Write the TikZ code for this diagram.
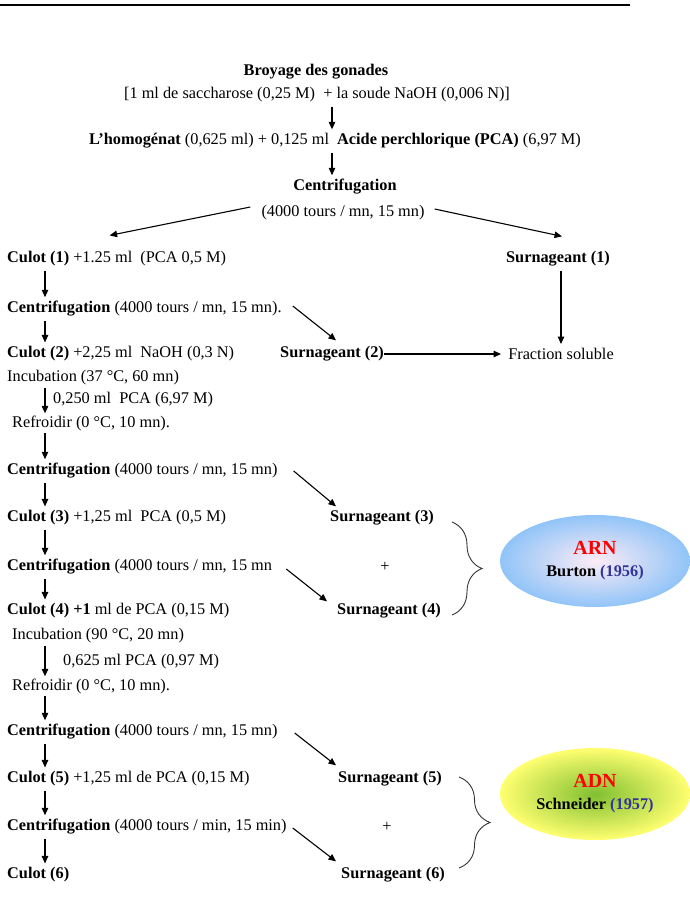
\documentclass[tikz,border=0pt]{standalone}
\usepackage{fontspec}
\setmainfont{Liberation Serif}
\usetikzlibrary{arrows.meta, shapes.geometric, decorations.pathreplacing}
\definecolor{Cred}{RGB}{255,0,0}
\definecolor{Cnavy}{RGB}{51,51,153}
\definecolor{Carnin}{RGB}{252,236,246}
\definecolor{Carnout}{RGB}{145,196,248}
\definecolor{Cadnin}{RGB}{128,192,50}
\definecolor{Cadnout}{RGB}{255,255,112}
\tikzset{
  txt/.style={anchor=west, inner xsep=0pt, inner ysep=4pt,
    font=\fontsize{16.3}{19.5}\selectfont},
  ctxt/.style={txt, anchor=center},
  tight/.style={inner ysep=2pt},
  arr/.style={-{Triangle[length=7.5pt, width=6.5pt]}, line width=1.1pt},
  brc/.style={decorate, decoration={brace, amplitude=#1}, line width=0.9pt, black!80},
  result/.style={ellipse, minimum width=190pt, minimum height=92pt, align=center,
    inner sep=0pt, font=\fontsize{16.3}{22}\selectfont},
}
\newcommand{\acidname}[1]{{\fontsize{20}{22}\selectfont\textcolor{Cred}{\textbf{#1}}}}

\begin{document}
\begin{tikzpicture}[x=1pt, y=-1pt]
\useasboundingbox (0,0) rectangle (689,902);

%% header rule
\draw[line width=2.5pt] (0,5) -- (630,5);

\coordinate (midx) at (332,0);
\coordinate (colx) at (45,0);

%%==========================================================================
%% TOP -- homogenate and first centrifugation
%%==========================================================================
\node[ctxt] (broy)  at (316,72)  {\textbf{Broyage des gonades}};
\node[ctxt] (sacch) at (317,95)  {[1 ml de saccharose (0,25 M)\ \ + la soude NaOH (0,006 N)]};
\node[ctxt] (homog) at (335,141) {\textbf{L’homogénat} (0,625 ml) + 0,125 ml\ \ \textbf{Acide perchlorique (PCA)} (6,97 M)};
\node[ctxt] (centA) at (345,187) {\textbf{Centrifugation}};
\node[ctxt] (toursA) at (343,213) {(4000 tours / mn, 15 mn)};

\draw[arr] (sacch.south -| midx) -- (homog.north -| midx);
\draw[arr] (homog.south -| midx) -- (centA.north -| midx);

%%==========================================================================
%% LEFT COLUMN -- pellets
%%==========================================================================
\node[txt] (cul1) at (7,259)  {\textbf{Culot (1)} +1.25 ml\ \ (PCA 0,5 M)};
\node[txt] (cen2) at (7,309)  {\textbf{Centrifugation} (4000 tours / mn, 15 mn).};
\node[txt] (cul2) at (7,354)  {\textbf{Culot (2)} +2,25 ml\ \ NaOH (0,3 N)};
\node[txt, tight] (incA) at (7,378)  {Incubation (37 °C, 60 mn)};
\node[txt, tight] (lblA) at (53,400) {0,250 ml\ \ PCA (6,97 M)};
\node[txt, tight] (refA) at (12,423) {Refroidir (0 °C, 10 mn).};
\node[txt] (cen3) at (7,471)  {\textbf{Centrifugation} (4000 tours / mn, 15 mn)};
\node[txt] (cul3) at (7,518)  {\textbf{Culot (3)} +1,25 ml\ \ PCA (0,5 M)};
\node[txt] (cen4) at (7,567)  {\textbf{Centrifugation} (4000 tours / mn, 15 mn};
\node[txt] (cul4) at (7,611)  {\textbf{Culot (4) +1} ml de PCA (0,15 M)};
\node[txt, tight] (incB) at (12,636) {Incubation (90 °C, 20 mn)};
\node[txt, tight] (lblB) at (63,662) {0,625 ml PCA (0,97 M)};
\node[txt, tight] (refB) at (12,686) {Refroidir (0 °C, 10 mn).};
\node[txt] (cen5) at (7,732)  {\textbf{Centrifugation} (4000 tours / mn, 15 mn)};
\node[txt] (cul5) at (7,779)  {\textbf{Culot (5)} +1,25 ml de PCA (0,15 M)};
\node[txt] (cen6) at (7,827)  {\textbf{Centrifugation} (4000 tours / min, 15 min)};
\node[txt] (cul6) at (7,875)  {\textbf{Culot (6)}};

\draw[arr] (cul1.south -| colx) -- (cen2.north -| colx);
\draw[arr] (cen2.south -| colx) -- (cul2.north -| colx);
\draw[arr] (incA.south -| colx) -- (refA.north -| colx);
\draw[arr] (refA.south -| colx) -- (cen3.north -| colx);
\draw[arr] (cen3.south -| colx) -- (cul3.north -| colx);
\draw[arr] (cul3.south -| colx) -- (cen4.north -| colx);
\draw[arr] (cen4.south -| colx) -- (cul4.north -| colx);
\draw[arr] (incB.south -| colx) -- (refB.north -| colx);
\draw[arr] (refB.south -| colx) -- (cen5.north -| colx);
\draw[arr] (cen5.south -| colx) -- (cul5.north -| colx);
\draw[arr] (cul5.south -| colx) -- (cen6.north -| colx);
\draw[arr] (cen6.south -| colx) -- (cul6.north -| colx);

%%==========================================================================
%% RIGHT COLUMN -- supernatants
%%==========================================================================
\node[ctxt] (sur1) at (558,259) {\textbf{Surnageant (1)}};
\node[ctxt] (frac) at (561,354) {Fraction soluble};
\node[txt]  (sur2) at (280,354) {\textbf{Surnageant (2)}};
\node[txt]  (sur3) at (330,518) {\textbf{Surnageant (3)}};
\node[ctxt] (plusA) at (385,567) {+};
\node[txt]  (sur4) at (337,611) {\textbf{Surnageant (4)}};
\node[txt]  (sur5) at (338,779) {\textbf{Surnageant (5)}};
\node[ctxt] (plusB) at (387,827) {+};
\node[txt]  (sur6) at (341,875) {\textbf{Surnageant (6)}};

\draw[arr] ([xshift=-11pt, yshift=6pt]toursA.west) -- ([xshift=-7pt, yshift=12pt]cul1.north);
\draw[arr] ([xshift=10pt, yshift=4pt]toursA.east) -- ([xshift=4pt, yshift=11pt]sur1.north);
\draw[arr] (frac.north |- sur1.south) -- (frac.north);
\draw[arr] (sur2.east) -- ([xshift=-7pt]frac.west);

\draw[arr] ([xshift=11pt, yshift=3pt]cen2.east) -- ([xshift=4pt, yshift=2pt]sur2.north);
\draw[arr] ([xshift=16pt]cen3.east) -- ([xshift=6pt]sur3.north west);
\draw[arr] ([xshift=14pt, yshift=-2pt]cen4.east) -- ([xshift=-10pt, yshift=-2pt]sur4.north west);
\draw[arr] ([xshift=17pt, yshift=-1pt]cen5.east) -- ([xshift=-2pt, yshift=2pt]sur5.north west);
\draw[arr] ([xshift=6pt, yshift=-1pt]cen6.east) -- ([xshift=-5pt, yshift=2pt]sur6.north west);

%%==========================================================================
%% RESULTS -- RNA and DNA fractions
%%==========================================================================
\draw[brc=30pt] (452,522) -- (452,615);
\draw[brc=31pt] (459,777) -- (459,868);

\node[result, inner color=Carnin, outer color=Carnout] (arn) at (595,561)
  {\acidname{ARN}\\ \textbf{Burton \textcolor{Cnavy}{(1956)}}};
\node[result, inner color=Cadnin, outer color=Cadnout] (adn) at (595,794)
  {\acidname{ADN}\\ \textbf{Schneider \textcolor{Cnavy}{(1957)}}};

\end{tikzpicture}
\end{document}
